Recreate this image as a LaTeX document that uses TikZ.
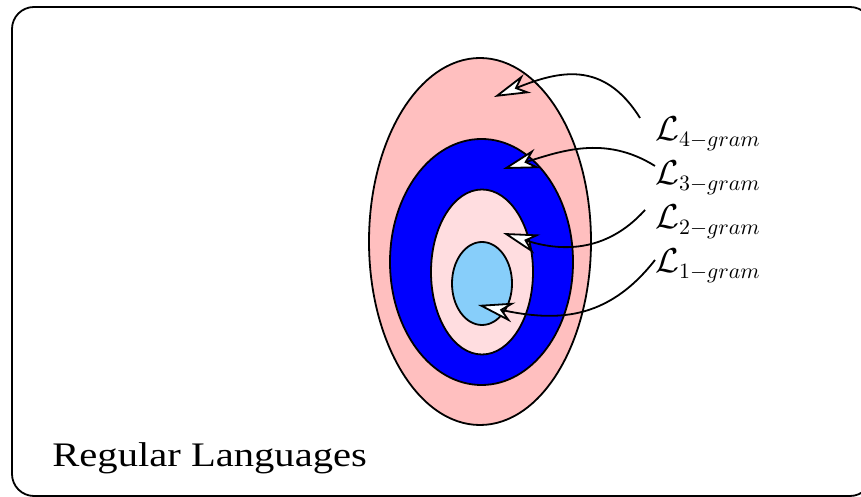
\documentclass[tikz,border=0pt]{standalone}
\usepackage[no-math]{fontspec}
\usepackage{amsmath, amssymb}
\usetikzlibrary{shapes.geometric, arrows.meta, positioning, calc}
\newfontfamily\regfont[FakeStretch=1.18]{Liberation Serif}
\definecolor{LangPink}{RGB}{255, 191, 191}
\definecolor{LangBlue}{RGB}{0, 0, 255}
\definecolor{LangRose}{RGB}{255, 221, 224}
\definecolor{LangSky}{RGB}{135, 206, 250}

\begin{document}
\begin{tikzpicture}[
    x=0.5pt,
    y=0.5pt,
    langset/.style={
        ellipse,
        draw=black,
        line width=0.9pt,
        inner sep=0pt
    },
    gramlabel/.style={
        anchor=base west,
        inner sep=0pt,
        font=\fontsize{16}{19}\selectfont
    },
    gramarrow/.style={
        line width=0.9pt,
        -{Stealth[length=18pt, width=10pt, inset=5.5pt, fill=white]}
    }
]
\clip (0,0) rectangle (861,497);
% -------------------------------------------------------------
% FRAME
% -------------------------------------------------------------
\draw[
    line width=0.9pt,
    rounded corners=11pt
] (12,1) rectangle (872,490);
\node[
    anchor=base west,
    inner sep=0pt,
    font=\regfont\fontsize{17.2}{20}\selectfont
] (regLang) at (52,30)
{Regular Languages};
% -------------------------------------------------------------
% LANGUAGE SETS
% -------------------------------------------------------------
\node[langset, fill=LangPink, minimum width=111pt, minimum height=183.5pt]
    (fourGram) at (480,255.5) {};
\node[langset, fill=LangBlue, minimum width=91.5pt, minimum height=123pt]
    (threeGram) at (481.5,235) {};
\node[langset, fill=LangRose, minimum width=51pt, minimum height=82.5pt]
    (twoGram) at (482,225) {};
\node[langset, fill=LangSky, minimum width=30pt, minimum height=41.5pt]
    (oneGram) at (482,213.5) {};
% -------------------------------------------------------------
% LABELS
% -------------------------------------------------------------
\node[gramlabel] (fourLabel) at (655,356) {$\mathcal{L}_{4-gram}$};
\node[gramlabel] (threeLabel) at (655,312) {$\mathcal{L}_{3-gram}$};
\node[gramlabel] (twoLabel) at (655,268) {$\mathcal{L}_{2-gram}$};
\node[gramlabel] (oneLabel) at (655,224) {$\mathcal{L}_{1-gram}$};
\coordinate (fourTip) at (494,400);
\coordinate (threeTip) at (503,328);
\coordinate (twoTip) at (503,264);
\coordinate (oneTip) at (478,192);
% -------------------------------------------------------------
% ARROWS
% -------------------------------------------------------------
\draw[gramarrow]
([shift={(-15,-1)}]fourLabel.north west)
to[out=122,in=22,looseness=1.2]
(fourTip);
\draw[gramarrow]
([shift={(0,-5)}]threeLabel.north west)
to[out=148,in=17]
(threeTip);
\draw[gramarrow]
([shift={(-10,-5)}]twoLabel.north west)
to[out=228,in=342,looseness=1.05]
(twoTip);
\draw[gramarrow]
([shift={(0,-11)}]oneLabel.north west)
to[out=232,in=348,looseness=1.1]
(oneTip);
\end{tikzpicture}
\end{document}
